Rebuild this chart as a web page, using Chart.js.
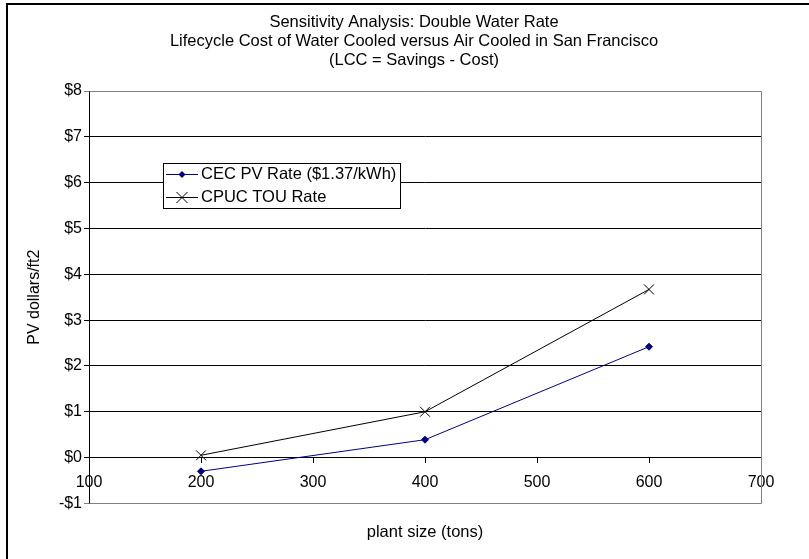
<!DOCTYPE html>
<html>
<head>
<meta charset="utf-8">
<script src="https://cdn.jsdelivr.net/npm/chart.js@4.4.1/dist/chart.umd.min.js"></script>
<style>
  html, body { margin: 0; padding: 0; background: #fff; }
  #wrap { width: 809px; height: 559px; }
</style>
</head>
<body>
<div id="wrap"><canvas id="chart" width="809" height="559"></canvas></div>
<script>
const plantSizes = [200, 400, 600];
const cecRate = [-0.3, 0.39, 2.42];
const cpucRate = [0.05, 1.0, 3.67];
const seriesNames = ['CEC PV Rate ($1.37/kWh)', 'CPUC TOU Rate'];
const titleLines = [
    'Sensitivity Analysis: Double Water Rate',
    'Lifecycle Cost of Water Cooled versus Air Cooled in San Francisco',
    '(LCC = Savings - Cost)'
];
const xTitle = 'plant size (tons)';
const yTitle = 'PV dollars/ft2';

Chart.defaults.font.family = "'Liberation Sans', Arial, sans-serif";
Chart.defaults.font.size = 16;
Chart.defaults.color = '#000';

const toPoints = vals => vals.map((v, i) => ({ x: plantSizes[i], y: v }));

// plot area frame, grey like Excel's
const frame = {
    id: 'frame',
    beforeDatasetsDraw(chart) {
        const { ctx, chartArea: a } = chart;
        ctx.save();
        ctx.strokeStyle = '#808080';
        ctx.lineWidth = 1;
        ctx.beginPath();
        ctx.moveTo(Math.round(a.left) + 0.5, Math.round(a.top) + 0.5);
        ctx.lineTo(Math.round(a.right) + 0.5, Math.round(a.top) + 0.5);
        ctx.lineTo(Math.round(a.right) + 0.5, Math.round(a.bottom) + 0.5);
        ctx.lineTo(Math.round(a.left) + 0.5, Math.round(a.bottom) + 0.5);
        ctx.stroke();
        ctx.restore();
    }
};

// legend box sitting inside the plot
const boxLegend = {
    id: 'boxLegend',
    afterDatasetsDraw(chart) {
        const ctx = chart.ctx;
        const ds = chart.data.datasets;
        ctx.save();
        ctx.fillStyle = '#fff';
        ctx.fillRect(163, 163, 237, 45);
        ctx.strokeStyle = '#000';
        ctx.lineWidth = 1;
        ctx.strokeRect(163.5, 163.5, 237, 45);

        ds.forEach((d, i) => {
            const y = 174.5 + i * 23;
            ctx.strokeStyle = d.borderColor;
            ctx.lineWidth = 1;
            ctx.beginPath();
            ctx.moveTo(166, y);
            ctx.lineTo(198, y);
            ctx.stroke();
            const cx = 182;
            if (d.pointStyle === 'rectRot') {
                ctx.fillStyle = d.borderColor;
                ctx.beginPath();
                ctx.moveTo(cx, y - 3.5);
                ctx.lineTo(cx + 3.5, y);
                ctx.lineTo(cx, y + 3.5);
                ctx.lineTo(cx - 3.5, y);
                ctx.closePath();
                ctx.fill();
            } else {
                const r = 5.5;
                ctx.beginPath();
                ctx.moveTo(cx - r, y - r);
                ctx.lineTo(cx + r, y + r);
                ctx.moveTo(cx + r, y - r);
                ctx.lineTo(cx - r, y + r);
                ctx.stroke();
            }
            ctx.fillStyle = '#000';
            ctx.font = "16.5px 'Liberation Sans', Arial, sans-serif";
            ctx.textBaseline = 'middle';
            ctx.textAlign = 'left';
            ctx.fillText(d.label, 201, y);
        });
        ctx.restore();
    }
};

// outer border (only top and left show in the crop)
const outer = {
    id: 'outer',
    afterDraw(chart) {
        const ctx = chart.ctx;
        ctx.save();
        ctx.fillStyle = '#000';
        ctx.fillRect(6, 3, 803, 2);
        ctx.fillRect(6, 3, 2, 556);
        ctx.restore();
    }
};

const ctx = document.getElementById('chart').getContext('2d');

const chart = new Chart(ctx, {
    type: 'line',
    data: {
        datasets: [
            {
                label: seriesNames[0],
                data: toPoints(cecRate),
                borderColor: '#000080',
                backgroundColor: '#000080',
                borderWidth: 1,
                pointStyle: 'rectRot',
                pointRadius: 3.5,
                pointBorderWidth: 1,
                tension: 0
            },
            {
                label: seriesNames[1],
                data: toPoints(cpucRate),
                borderColor: '#000',
                backgroundColor: '#000',
                borderWidth: 1,
                pointStyle: 'crossRot',
                pointRadius: 7,
                pointBorderWidth: 1,
                tension: 0
            }
        ]
    },
    options: {
        responsive: false,
        animation: false,
        // negative right padding + empty right axis: keeps plot at 89..761
        // while the full-width title centres near x=414 like the reference
        layout: { padding: { left: 10, right: -9, top: 0, bottom: 10 } },
        plugins: {
            legend: { display: false },
            tooltip: { enabled: false },
            title: {
                display: true,
                text: titleLines,
                color: '#000',
                font: { size: 16.5, weight: 'normal', lineHeight: '19px' },
                padding: { top: 12.5, bottom: 21.5 }
            },
            subtitle: {
                display: true,
                position: 'bottom',
                fullSize: false,
                text: xTitle,
                color: '#000',
                font: { size: 16.5, weight: 'normal' },
                padding: { top: 18.7, bottom: 7.1 }
            }
        },
        scales: {
            x: {
                type: 'linear',
                position: { y: 0 },
                min: 100,
                max: 700,
                ticks: { stepSize: 100, padding: 10, maxRotation: 0, color: '#000' },
                grid: { drawOnChartArea: false, drawTicks: true, tickLength: 5, color: '#000' },
                border: { display: true, color: '#000', width: 1 }
            },
            y: {
                min: -1,
                max: 8,
                afterFit(scale) { scale.width = 79; },
                ticks: {
                    stepSize: 1,
                    padding: 2,
                    color: '#000',
                    callback: v => (v < 0 ? '-$' + Math.abs(v) : '$' + v)
                },
                grid: {
                    color: c => (c.tick && (c.tick.value === 8 || c.tick.value === -1) ? '#808080' : '#000'),
                    tickLength: 5,
                    lineWidth: 1
                },
                border: { display: true, color: '#000', width: 1 },
                title: {
                    display: true,
                    text: yTitle,
                    color: '#000',
                    font: { size: 16 },
                    padding: { top: 15.4, bottom: 0 }
                }
            },
            spacer: {
                type: 'linear',
                position: 'right',
                min: 0,
                max: 1,
                afterFit(scale) { scale.width = 57; },
                ticks: { display: false },
                grid: { display: false },
                border: { display: false }
            }
        }
    },
    plugins: [frame, boxLegend, outer]
});
</script>
</body>
</html>
